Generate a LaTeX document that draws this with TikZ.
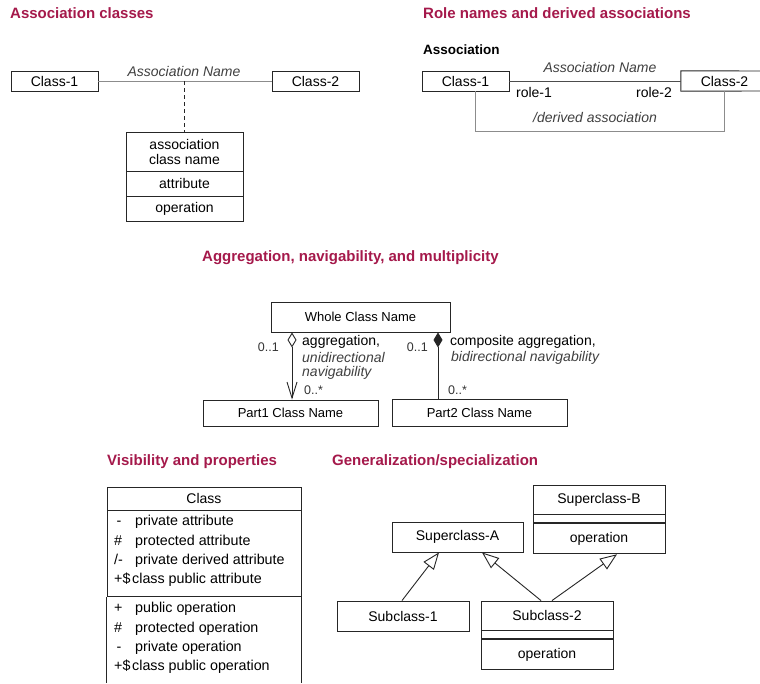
\documentclass[tikz,border=0pt]{standalone}
\usepackage{fontspec}
\setmainfont{Liberation Sans}
\usetikzlibrary{arrows.meta}
\definecolor{ttl}{RGB}{165,25,75}
\begin{document}
\begin{tikzpicture}[x=1pt,y=-1pt,
  ttlf/.style={anchor=west, inner sep=0, text=ttl, font=\fontsize{15}{17}\selectfont\bfseries},
  lbl/.style={inner sep=0, font=\fontsize{14}{15}\selectfont},
  slbl/.style={inner sep=0, font=\fontsize{12.5}{14}\selectfont, text=black!80},
  ilbl/.style={inner sep=0, font=\fontsize{14}{15}\selectfont\itshape, text=black!75},
  blbl/.style={inner sep=0, font=\fontsize{13.5}{15}\selectfont\bfseries},
  cls/.style={draw=black!85, line width=0.9pt, inner sep=0, font=\fontsize{14}{15}\selectfont},
  cls13/.style={cls, font=\fontsize{13}{15}\selectfont},
  bline/.style={draw=black!85, line width=0.9pt},
  gline/.style={draw=black!45, line width=1pt},
  rowtxt/.style={anchor=west, inner sep=0, font=\fontsize{14.3}{15}\selectfont}
]
\fill[white] (0,0) rectangle (760,683);
\useasboundingbox (0,0) rectangle (760,683);

% ---------- Association classes ----------
\node[ttlf] (t1) at (10,13) {Association classes};
\node[cls, minimum width=87, minimum height=20] (c1) at (54.5,81) {Class-1};
\node[cls, minimum width=87, minimum height=20] (c2) at (315.5,81) {Class-2};
\draw[gline] (c1) -- (c2);
\node[ilbl] (an1) at (184,71) {Association Name};
\node[cls, minimum width=117, minimum height=39, align=center] (acn) at (184.5,151.5) {association\\class name};
\node[cls, minimum width=117, minimum height=25] (aca) at (184.5,183.5) {attribute};
\node[cls, minimum width=117, minimum height=25] (aco) at (184.5,208.5) {operation};
\coordinate (m1) at (184,81);
\draw[bline, line width=0.7pt, dashed, dash pattern=on 4pt off 3pt] (m1) -- (acn.north -| m1);

% ---------- Role names ----------
\node[ttlf] (t2) at (423,13) {Role names and derived associations};
\node[blbl, anchor=west] (asc) at (423,50) {Association};
\node[cls, minimum width=87, minimum height=20] (r1) at (465.5,81) {Class-1};
\node[lbl, minimum width=87, minimum height=20] (r2) at (724.5,81) {Class-2};
\draw[bline] (760,71) -- (r2.north west) -- (r2.south west) -- (760,91);
\draw[bline, draw=black!70] (r1.east) -- (r2.west);
\node[ilbl] (an2) at (600,67) {Association Name};
\node[lbl] (ro1) at (534,92) {role-1};
\node[lbl] (ro2) at (654,92) {role-2};
\coordinate (d1) at (475,131);
\coordinate (d2) at (724,131);
\draw[gline] (r1.south -| d1) -- (d1) -- (d2) -- (r2.south -| d2);
\node[ilbl] (der) at (595,117) {/derived association};

% ---------- Aggregation ----------
\node[ttlf] (t3) at (202,258) {Aggregation, navigability, and multiplicity};
\node[cls13, minimum width=179, minimum height=30] (whole) at (360.5,317) {Whole Class Name};
\node[cls13, minimum width=175, minimum height=26] (p1) at (290.5,413) {Part1 Class Name};
\node[cls13, minimum width=175, minimum height=27] (p2) at (479.5,412.5) {Part2 Class Name};
\coordinate (a1) at (292,0);
\coordinate (a2) at (438,0);
\draw[bline, {Diamond[open,length=15pt,width=9pt]}-{Straight Barb[length=16pt,width=10pt]}] (whole.south -| a1) -- (p1.north -| a1);
\draw[bline, {Diamond[length=15pt,width=9pt]}-] (whole.south -| a2) -- (p2.north -| a2);
\node[slbl, anchor=east] (m11) at (279,347) {0..1};
\node[lbl, anchor=west] (ag1) at (302,342) {aggregation,};
\node[ilbl, anchor=west] (ag2) at (302,357) {unidirectional};
\node[ilbl, anchor=west] (ag3) at (302,373) {navigability};
\node[slbl, anchor=west] (m12) at (304,390) {0..*};
\node[slbl, anchor=east] (m21) at (428,347) {0..1};
\node[lbl, anchor=west] (co1) at (450,342) {composite aggregation,};
\node[ilbl, anchor=west] (co2) at (451,358) {bidirectional navigability};
\node[slbl, anchor=west] (m22) at (448,390) {0..*};

% ---------- Visibility ----------
\node[ttlf] (t4) at (107,462) {Visibility and properties};
\node[cls, minimum width=194, minimum height=23] (vc) at (204,498.5) {Class};
\node[cls, minimum width=194, minimum height=86, anchor=north] (va) at (vc.south) {};
\draw[bline] (va.south west) -- (va.south west |- 0,683);
\draw[bline] (va.south east) -- (va.south east |- 0,683);
\node[rowtxt] (v1) at (114,522) {\makebox[21pt][l]{\,-}private attribute};
\node[rowtxt] (v2) at (114,542) {\makebox[21pt][l]{\#}protected attribute};
\node[rowtxt] (v3) at (114,561) {\makebox[21pt][l]{/-}private derived attribute};
\node[rowtxt] (v4) at (114,580) {\makebox[18pt][l]{+\$}class public attribute};
\node[rowtxt] (v5) at (114,609) {\makebox[21pt][l]{+}public operation};
\node[rowtxt] (v6) at (114,629) {\makebox[21pt][l]{\#}protected operation};
\node[rowtxt] (v7) at (114,648) {\makebox[21pt][l]{\,-}private operation};
\node[rowtxt] (v8) at (114,667) {\makebox[18pt][l]{+\$}class public operation};

% ---------- Generalization ----------
\node[ttlf] (t5) at (332,462) {Generalization/specialization};
\node[cls, minimum width=131, minimum height=30] (supA) at (457.5,537) {Superclass-A};
\node[cls, minimum width=132, minimum height=29] (supB) at (599,499.5) {Superclass-B};
\node[cls, minimum width=132, minimum height=8, anchor=north] (supBm) at (supB.south) {};
\node[cls, minimum width=132, minimum height=30, anchor=north] (supBo) at (supBm.south) {operation};
\node[cls, minimum width=132, minimum height=30] (sub1) at (403,616) {Subclass-1};
\node[cls, minimum width=132, minimum height=29] (sub2) at (547,615.5) {Subclass-2};
\node[cls, minimum width=132, minimum height=8, anchor=north] (sub2m) at (sub2.south) {};
\node[cls, minimum width=132, minimum height=30, anchor=north] (sub2o) at (sub2m.south) {operation};
\coordinate (g1) at (402,0);
\coordinate (g2) at (439,0);
\coordinate (g3) at (541,0);
\coordinate (g4) at (482,0);
\coordinate (g5) at (552,0);
\coordinate (g6) at (617,0);
\draw[bline, -{Triangle[open,length=17pt,width=13pt]}] (sub1.north -| g1) -- (supA.south -| g2);
\draw[bline, -{Triangle[open,length=17pt,width=13pt]}] (sub2.north -| g3) -- (supA.south -| g4);
\draw[bline, -{Triangle[open,length=17pt,width=13pt]}] (sub2.north -| g5) -- (supBo.south -| g6);
\end{tikzpicture}
\end{document}
